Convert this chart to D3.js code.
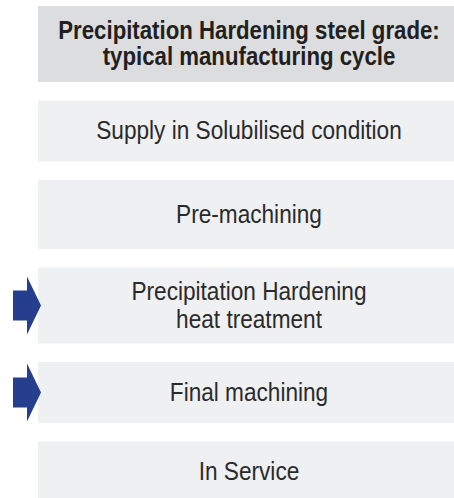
<!DOCTYPE html>
<html>
<head>
<meta charset="utf-8">
<script src="https://cdn.jsdelivr.net/npm/d3@7"></script>
<style>
  body { margin: 0; background: #fff; }
  text { font-family: "Liberation Sans", Arial, sans-serif; }
</style>
</head>
<body>
<svg></svg>
<script>
var width = 454;
var height = 498;

// title and steps of the cycle
var titleLines = ["Precipitation Hardening steel grade:", "typical manufacturing cycle"];
var steps = [
  ["Supply in Solubilised condition"],
  ["Pre-machining"],
  ["Precipitation Hardening", "heat treatment"],
  ["Final machining"],
  ["In Service"]
];
// steps marked with an arrow
var highlighted = [false, false, true, true, false];

// layout: box heights (title first), gap between boxes
var boxHeights = [76, 61, 69, 76, 61, 60];
var gap = 18.5;
var boxX = 38, boxW = 422;
var textX = 249;

var svg = d3.select("svg")
    .attr("width", width)
    .attr("height", height);

var rows = [{lines: titleLines, title: true, mark: false}].concat(
  steps.map(function(s, i) { return {lines: s, title: false, mark: highlighted[i]}; }));

// y positions stacked
var y0 = 6;
rows.forEach(function(d, i) {
  d.y = y0;
  d.h = boxHeights[i];
  y0 += d.h + gap;
});

var g = svg.selectAll("g.row")
    .data(rows)
    .enter().append("g")
    .attr("class", "row")
    .attr("transform", function(d) { return "translate(0," + d.y + ")"; });

g.append("rect")
    .attr("x", boxX)
    .attr("y", 0)
    .attr("width", boxW)
    .attr("height", function(d) { return d.h; })
    .attr("fill", function(d) { return d.title ? "#dcdddf" : "#eff0f2"; });

g.each(function(d) {
  var n = d.lines.length;
  var lineH = d.title ? 26 : 28;
  // squeeze horizontally to get a condensed face
  var squeeze = d.title ? 0.855 : 0.87;
  var t = d3.select(this).append("g")
      .attr("transform", "translate(" + textX + ",0) scale(" + squeeze + ",1)")
    .append("text")
      .attr("text-anchor", "middle")
      .attr("font-size", 26)
      .attr("font-weight", d.title ? "bold" : "normal")
      .attr("fill", d.title ? "#231f20" : "#2b2a2a");
  // one text, one tspan per line
  t.selectAll("tspan")
      .data(d.lines)
      .enter().append("tspan")
      .attr("x", 0)
      .attr("y", function(l, j) { return d.h / 2 + (j - (n - 1) / 2) * lineH + 8.5; })
      .text(function(l) { return l; });
});

// arrows on highlighted steps
var arrow = d3.line();
g.filter(function(d) { return d.mark; })
  .append("path")
    .attr("fill", "#253f8e")
    .attr("d", function(d) {
      var c = d.h / 2;
      return arrow([[13, c - 15], [27, c - 15], [27, c - 29], [41, c], [27, c + 29],
                    [27, c + 15], [13, c + 15]]) + "Z";
    });
</script>
</body>
</html>
